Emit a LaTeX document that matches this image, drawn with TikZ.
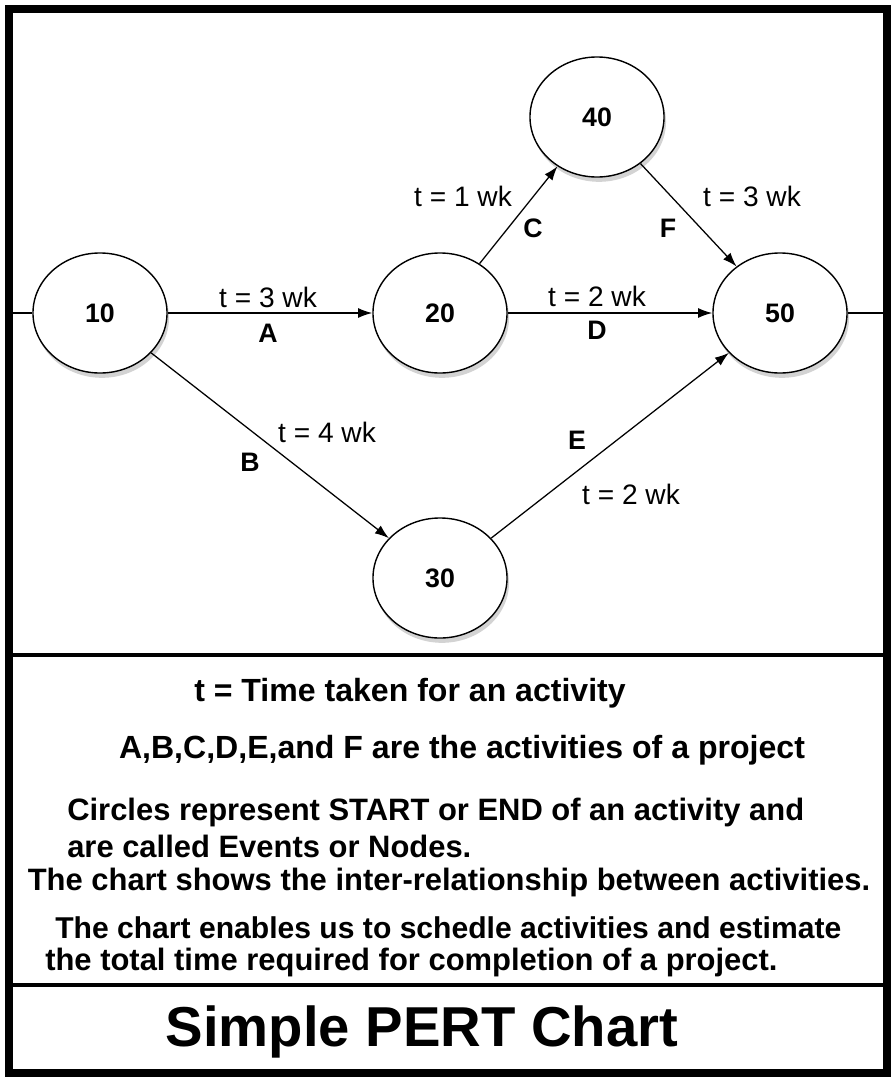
\documentclass[tikz,border=0pt]{standalone}
\usepackage{fontspec}
\setmainfont{Liberation Sans}
\usetikzlibrary{arrows.meta,shapes.geometric,shadows}

\begin{document}
\begin{tikzpicture}[
		x=0.025cm, y=-0.025cm,
		event/.style={ellipse, draw, line width=1pt, fill=white,
			minimum width=3.35cm, minimum height=3cm,
			drop shadow={opacity=0.35, shadow xshift=0.5mm, shadow yshift=-1.2mm},
			font=\bfseries\fontsize{19}{22}\selectfont},
		activity/.style={line width=0.9pt, -{Latex[length=10pt,width=7pt]}},
		tlabel/.style={font=\fontsize{20}{23}\selectfont},
		alabel/.style={font=\bfseries\fontsize{19}{22}\selectfont},
		caption/.style={font=\bfseries\fontsize{22}{26}\selectfont, inner sep=0pt},
		bigcaption/.style={caption, font=\bfseries\fontsize{22.8}{26}\selectfont}
		]
		
		\useasboundingbox (0,0) rectangle (892,1078);
		
		% Draw the frame
		\draw[line width=5.7pt] (9,9) rectangle (887,1073);
		\draw[line width=3pt] (9,655) -- (887,655);
		\draw[line width=3pt] (9,985) -- (887,985);
		
		% Draw the events
		\node[event] (n10) at (100,313) {10};
		\node[event] (n20) at (440,313) {20};
		\node[event] (n40) at (597,117) {40};
		\node[event] (n50) at (780,313) {50};
		\node[event] (n30) at (440,578) {30};
		
		% Lines in and out
		\coordinate (start) at (9,313);
		\coordinate (finish) at (887,313);
		\draw[line width=1.4pt] (start) -- (n10);
		\draw[line width=1.4pt] (n50) -- (finish);
		
		% Draw the activities
		\draw[activity] (n10) -- (n20);
		\draw[activity] (n20) -- (n40);
		\draw[activity] (n40) -- (n50);
		\draw[activity] (n20) -- (n50);
		\draw[activity] (n10) -- (n30);
		\draw[activity] (n30) -- (n50);
		
		% Label the activities
		\node[tlabel] (tA) at (268,297) {t = 3 wk};
		\node[alabel] (lA) at (268,333) {A};
		\node[tlabel] (tD) at (597,296) {t = 2 wk};
		\node[alabel] (lD) at (597,330) {D};
		\node[tlabel] (tC) at (463,196) {t = 1 wk};
		\node[alabel] (lC) at (533,228) {C};
		\node[tlabel] (tF) at (752,196) {t = 3 wk};
		\node[alabel] (lF) at (668,228) {F};
		\node[tlabel] (tB) at (327,432) {t = 4 wk};
		\node[alabel] (lB) at (250,462) {B};
		\node[alabel] (lE) at (577,440) {E};
		\node[tlabel] (tE) at (631,494) {t = 2 wk};
		
		% Add the notes
		\node[bigcaption] (note1) at (410,693) {t = Time taken for an activity};
		\node[bigcaption] (note2) at (462,750) {A,B,C,D,E,and F are the activities of a project};
		\node[caption, anchor=west] (note3) at (67,812) {Circles represent START or END of an activity and};
		\node[caption, anchor=west] (note4) at (67,846) {are called Events or Nodes.};
		\node[caption] (note5) at (449,882) {The chart shows the inter-relationship between activities.};
		\node[caption, anchor=west, font=\bfseries\fontsize{21.4}{26}\selectfont] (note6) at (55,928) {The chart enables us to schedle activities and estimate};
		\node[caption, anchor=west] (note7) at (45,962) {the total time required for completion of a project.};
		
		% Title
		\node[font=\bfseries\fontsize{40}{46}\selectfont] (title) at (422,1032) {Simple PERT Chart};
		
	\end{tikzpicture}
\end{document}
